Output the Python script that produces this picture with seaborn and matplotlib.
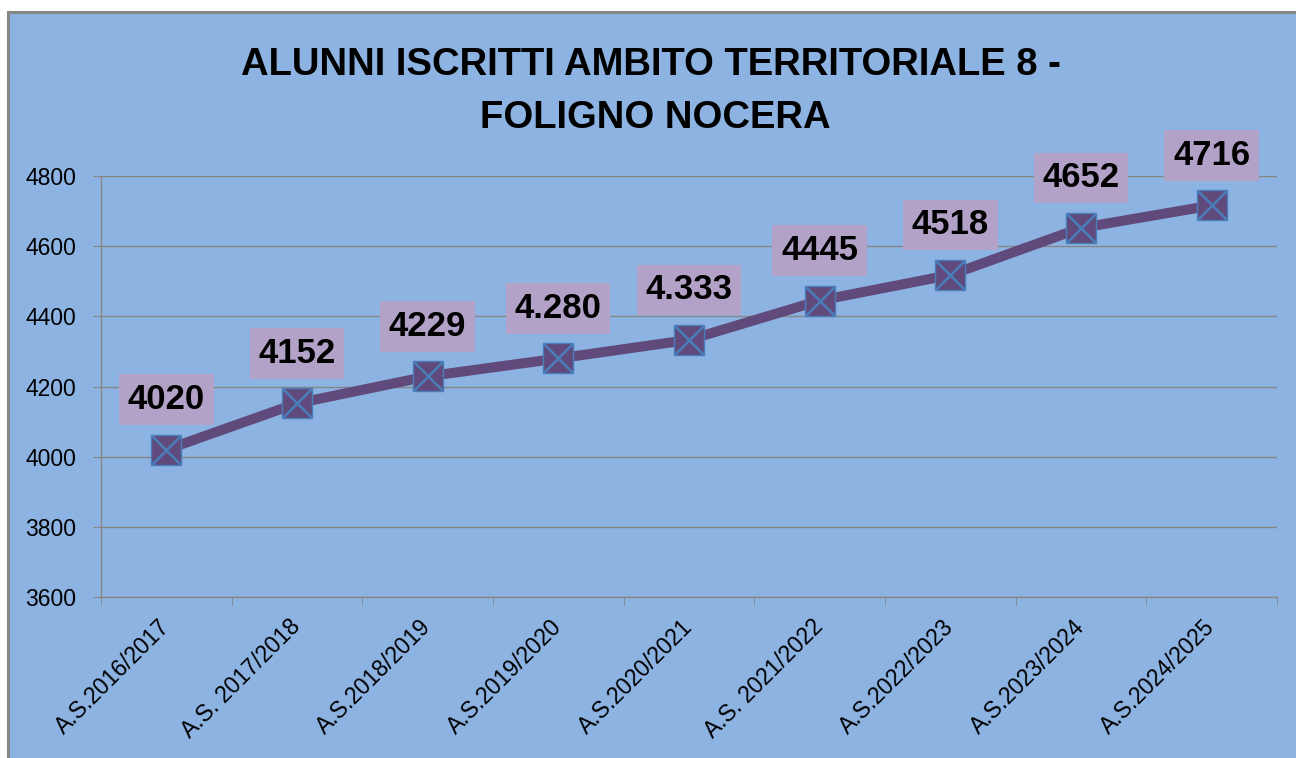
import numpy as np
import matplotlib
matplotlib.use("Agg")
import matplotlib.pyplot as plt
import matplotlib.transforms as mtransforms
from matplotlib.patches import Rectangle
import seaborn as sns

# dati
anni = ["A.S.2016/2017", "A.S. 2017/2018", "A.S.2018/2019", "A.S.2019/2020",
        "A.S.2020/2021", "A.S. 2021/2022", "A.S.2022/2023", "A.S.2023/2024",
        "A.S.2024/2025"]
alunni = [4020, 4152, 4229, 4280, 4333, 4445, 4518, 4652, 4716]
etichette = ["4020", "4152", "4229", "4.280", "4.333", "4445", "4518", "4652", "4716"]
yticks = [3600, 3800, 4000, 4200, 4400, 4600, 4800]

sns.set_style("white")
plt.rcParams['font.family'] = ['Liberation Sans', 'DejaVu Sans']
plt.rcParams['text.color'] = "black"

viola = "#604A7B"
blu = "#4A7EBB"
sfondo = "#8DB3E2"
grigio = "#868686"

fig = plt.figure(figsize=(12.96, 7.58), dpi=100, facecolor="white")

# area del grafico con bordo grigio (solo sopra e a sinistra)
fig.patches.append(Rectangle((7.5 / 1296, -0.5), 2.0, 1 - 11.5 / 758 + 0.5,
                             transform=fig.transFigure, facecolor=sfondo,
                             edgecolor=grigio, linewidth=2.2, zorder=-10))

ax = fig.add_axes([101 / 1296, 1 - 597 / 758, 1176 / 1296, 421 / 758])
ax.set_facecolor("none")

sns.lineplot(x=anni, y=alunni, sort=False, color=viola, linewidth=7.2,
             marker="s", markersize=21, markerfacecolor=viola,
             markeredgecolor=blu, markeredgewidth=1.0, ax=ax, zorder=3)
sns.scatterplot(x=anni, y=alunni, marker="x", s=21 ** 2, color=blu,
                linewidth=1.8, ax=ax, zorder=4)

for i, (v, lab) in enumerate(zip(alunni, etichette)):
    ax.annotate(lab, (i, v), xytext=(0, 36), textcoords="offset points",
                ha="center", va="center", fontsize=25, fontweight="bold",
                color="black", zorder=5,
                bbox=dict(boxstyle="square,pad=0.25", fc="#B3A2C7", ec="none"))

ax.set_xlim(-0.5, len(anni) - 0.5)
ax.set_ylim(3600, 4800)
ax.set_yticks(yticks)
ax.set_xticks(range(len(anni)))
ax.set_xticks(np.arange(-0.5, len(anni)), minor=True)
ax.set_xticklabels(anni, rotation=45, ha="right")
ax.set_xlabel("")
ax.set_ylabel("")

ax.yaxis.grid(True, color=grigio, linewidth=1, zorder=0)
ax.xaxis.grid(False)
ax.set_axisbelow(True)

for s in ["top", "right"]:
    ax.spines[s].set_visible(False)
for s in ["left", "bottom"]:
    ax.spines[s].set_color(grigio)
    ax.spines[s].set_linewidth(1)

ax.tick_params(axis="y", which="major", length=6, color=grigio, pad=12,
               labelsize=16.5, labelcolor="black", left=True)
ax.tick_params(axis="x", which="major", length=0, pad=13, labelsize=16.5,
               labelcolor="black")
ax.tick_params(axis="x", which="minor", length=6, color=grigio, bottom=True)

# sposta un po' a destra le etichette ruotate
offset = mtransforms.ScaledTranslation(8 / 100, 0, fig.dpi_scale_trans)
for t in ax.get_xticklabels():
    t.set_transform(t.get_transform() + offset)

fig.text(651 / 1296, 1 - 75 / 758, "ALUNNI ISCRITTI AMBITO TERRITORIALE 8 -",
         ha="center", va="baseline", fontsize=27.5, fontweight="bold",
         color="black")
fig.text(655 / 1296, 1 - 128 / 758, "FOLIGNO NOCERA",
         ha="center", va="baseline", fontsize=27.5, fontweight="bold",
         color="black")

fig.savefig("out.png", dpi=100, facecolor="white")
